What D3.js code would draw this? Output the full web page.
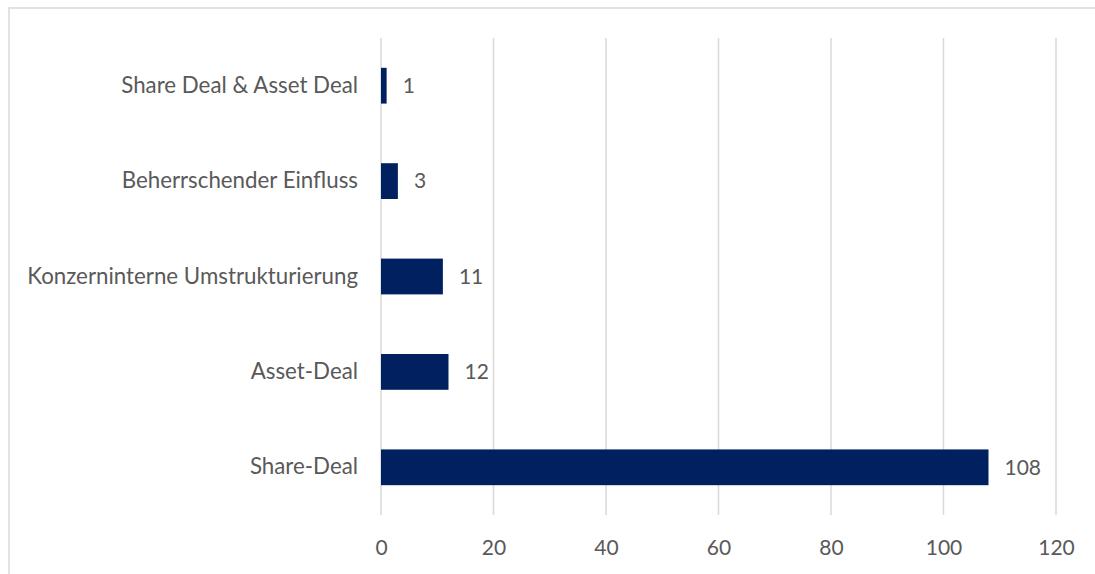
<!DOCTYPE html>
<html>
<head>
<meta charset="utf-8">
<script src="https://cdn.jsdelivr.net/npm/d3@7"></script>
<style>
    body { margin: 0; background: #fff; }
    svg text { font-family: Lato, "Open Sans", sans-serif; fill: #595959; }
</style>
</head>
<body>
<div id="chart"></div>
<script>
// data
const categories = ["Share Deal & Asset Deal", "Beherrschender Einfluss", "Konzerninterne Umstrukturierung", "Asset-Deal", "Share-Deal"];
const values = [1, 3, 11, 12, 108];
const xTicks = [0, 20, 40, 60, 80, 100, 120];

const width = 1095;
const height = 574;
const margin = { top: 38, right: 39, bottom: 59, left: 381 };

const svg = d3.select("#chart").append("svg")
    .attr("width", width)
    .attr("height", height);

// chart frame (runs off right / bottom edge)
svg.append("rect")
    .attr("x", 9)
    .attr("y", 8)
    .attr("width", width)
    .attr("height", height)
    .attr("fill", "none")
    .attr("stroke", "#d9d9d9")
    .attr("stroke-width", 1.5);

const x = d3.scaleLinear()
    .domain([0, 120])
    .range([margin.left, width - margin.right]);

const y = d3.scaleBand()
    .domain(categories)
    .range([margin.top, height - margin.bottom])
    .paddingInner(0.625)
    .paddingOuter(0.3125);

// gridlines
svg.append("g")
    .selectAll("line")
    .data(xTicks)
    .join("line")
    .attr("x1", d => x(d))
    .attr("x2", d => x(d))
    .attr("y1", margin.top)
    .attr("y2", height - margin.bottom)
    .attr("stroke", "#d9d9d9")
    .attr("stroke-width", 1.5);

// x axis labels
const xAxis = d3.axisBottom(x).tickValues(xTicks).tickSize(0).tickPadding(0);
const gx = svg.append("g")
    .attr("transform", `translate(0,${height - margin.bottom})`)
    .call(xAxis);
gx.select(".domain").remove();
gx.selectAll("text")
    .attr("dy", null)
    .attr("y", 40)
    .style("font-size", "21px")
    .style("fill", "#595959");

// category labels
const yAxis = d3.axisLeft(y).tickSize(0).tickPadding(23);
const gy = svg.append("g")
    .attr("transform", `translate(${margin.left},0)`)
    .call(yAxis);
gy.select(".domain").remove();
gy.selectAll("text")
    .style("font-size", "22.3px")
    .style("fill", "#595959");

// bars
svg.append("g")
    .selectAll("rect")
    .data(values)
    .join("rect")
    .attr("x", x(0))
    .attr("y", (d, i) => y(categories[i]))
    .attr("width", d => x(d) - x(0))
    .attr("height", y.bandwidth())
    .attr("fill", "#002060");

// value labels
svg.append("g")
    .selectAll("text")
    .data(values)
    .join("text")
    .attr("x", d => x(d) + 16)
    .attr("y", (d, i) => y(categories[i]) + y.bandwidth() / 2)
    .attr("dy", "0.35em")
    .style("font-size", "21px")
    .text(d => d);
</script>
</body>
</html>
